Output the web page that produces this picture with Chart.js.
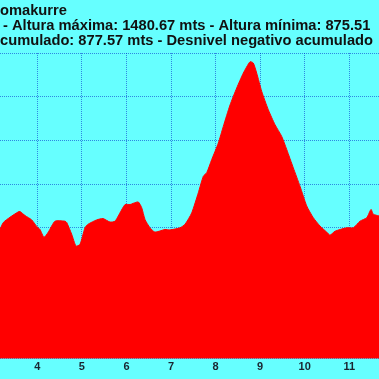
<!DOCTYPE html>
<html>
<head>
<meta charset="utf-8">
<script src="https://cdn.jsdelivr.net/npm/chart.js@4/dist/chart.umd.min.js"></script>
<style>
  html, body { margin: 0; padding: 0; background: #66ffff; overflow: hidden; }
  #wrap { width: 379px; height: 379px; position: relative; }
</style>
</head>
<body>
<div id="wrap"><canvas id="profile"></canvas></div>
<script>
// perfil de altura (parte visible) - distancia en km, altura en m
const distKm = [3.163, 3.237, 3.387, 3.567, 3.612, 3.724, 3.874, 3.987, 4.061, 4.150,
  4.247, 4.397, 4.622, 4.660, 4.772, 4.868, 4.958, 5.070, 5.138, 5.333,
  5.474, 5.631, 5.743, 5.817, 5.968, 6.080, 6.154, 6.266, 6.342, 6.416,
  6.528, 6.640, 6.865, 6.977, 7.202, 7.314, 7.464, 7.612, 7.725, 7.801,
  7.913, 8.061, 8.173, 8.324, 8.474, 8.622, 8.772, 8.846, 8.922, 9.035,
  9.183, 9.333, 9.484, 9.596, 9.744, 9.894, 10.044, 10.192, 10.342, 10.493,
  10.567, 10.679, 10.942, 11.090, 11.240, 11.391, 11.487, 11.539, 11.666];
const alturaM = [1096, 1112, 1124, 1136, 1137, 1128, 1118, 1103, 1096, 1078,
  1090, 1115, 1115, 1112, 1085, 1058, 1062, 1100, 1108, 1118,
  1121, 1113, 1115, 1127, 1153, 1153, 1156, 1159, 1146, 1119,
  1100, 1090, 1096, 1095, 1100, 1108, 1134, 1180, 1218, 1226,
  1256, 1294, 1332, 1381, 1420, 1454, 1480, 1477, 1454, 1412,
  1370, 1336, 1309, 1279, 1237, 1195, 1150, 1123, 1104, 1090,
  1083, 1092, 1100, 1100, 1115, 1123, 1142, 1131, 1127];
const xTicks = [4, 5, 6, 7, 8, 9, 10, 11];
const titleLines = [
  'omakurre',
  '- Altura máxima: 1480.67 mts - Altura mínima: 875.51',
  'cumulado: 877.57 mts - Desnivel negativo acumulado'
];

const FONT = 'Arial, "Liberation Sans", sans-serif';

// textos de cabecera (recortados como en la imagen)
const headerText = {
  id: 'headerText',
  afterDraw(chart) {
    const ctx = chart.ctx;
    ctx.save();
    ctx.fillStyle = '#111';
    ctx.font = 'bold 14.7px ' + FONT;
    ctx.textBaseline = 'alphabetic';
    ctx.textAlign = 'left';
    ctx.fillText(titleLines[0], 0, 15);
    ctx.fillText(titleLines[1], 3, 30);
    ctx.fillText(titleLines[2], 0, 45);
    ctx.restore();
  }
};

const gridStyle = {
  color: 'rgba(0, 40, 200, 0.55)',
  lineWidth: 1,
  drawTicks: false,
};

new Chart(document.getElementById('profile').getContext('2d'), {
  type: 'line',
  data: {
    datasets: [{
      data: distKm.map((d, i) => ({ x: d, y: alturaM[i] })),
      borderColor: '#ff0000',
      backgroundColor: '#ff0000',
      borderWidth: 1,
      fill: 'start',
      pointRadius: 0,
      tension: 0.2,
    }]
  },
  options: {
    responsive: true,
    maintainAspectRatio: false,
    animation: false,
    layout: { padding: { top: 53, left: 0, right: 0, bottom: 3 } },
    plugins: { legend: { display: false }, tooltip: { enabled: false } },
    scales: {
      x: {
        type: 'linear',
        min: 3.163,
        max: 11.666,
        z: 1,
        afterBuildTicks: axis => { axis.ticks = xTicks.map(v => ({ value: v })); },
        grid: gridStyle,
        border: { display: false, dash: [1, 1] },
        ticks: { color: '#1a2530', font: { family: FONT, size: 11, weight: 'bold' }, padding: 2, maxRotation: 0 }
      },
      y: {
        min: 800,
        max: 1500,
        z: 1,
        grid: gridStyle,
        border: { display: false, dash: [1, 1] },
        ticks: { display: false, stepSize: 100 }
      }
    }
  },
  plugins: [headerText]
});
</script>
</body>
</html>
